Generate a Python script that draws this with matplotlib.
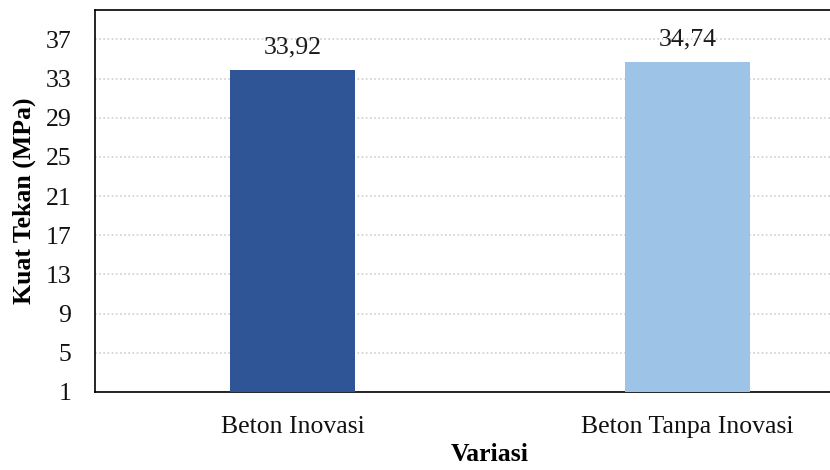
import matplotlib
matplotlib.use("Agg")
import matplotlib.pyplot as plt

categories = ["Beton Inovasi", "Beton Tanpa Inovasi"]
values = [33.92, 34.74]
labels = ["33,92", "34,74"]
colors = ["#2F5597", "#9DC3E6"]
yticks = [1, 5, 9, 13, 17, 21, 25, 29, 33, 37]

plt.rcParams['font.family'] = ['Liberation Serif', 'DejaVu Serif']

fig = plt.figure(figsize=(8.3, 4.7), dpi=100)
W, H = 830, 470
ax = fig.add_axes([95 / W, 1 - 392 / H, 790 / W, 382 / H])

x = list(range(len(categories)))
bars = ax.bar(x, [v - 1 for v in values], bottom=1, width=0.316, color=colors, zorder=3)
for b, lab in zip(bars, labels):
    ax.annotate(lab, (b.get_x() + b.get_width() / 2, b.get_y() + b.get_height()),
                xytext=(0, 8), textcoords="offset points", ha="center", va="bottom",
                fontsize=18.5, color="#1a1a1a")

ax.set_xlim(-0.5, 1.5)
ax.set_ylim(1, 40)
ax.set_yticks(yticks)
ax.set_xticks(x)
ax.set_xticklabels(categories)
ax.tick_params(axis='both', length=0, labelsize=18.5, colors="#111111")
ax.tick_params(axis='y', pad=17)
ax.tick_params(axis='x', pad=17)
ax.yaxis.grid(True, linestyle=(0, (1, 1.5)), color="#d0d0d0", linewidth=1.2, zorder=0)
ax.set_axisbelow(True)
for s in ax.spines.values():
    s.set_color("black")
    s.set_linewidth(1.2)

ax.set_ylabel("Kuat Tekan (MPa)", fontsize=18.5, fontweight="bold", labelpad=7)
ax.set_xlabel("Variasi", fontsize=18.5, fontweight="bold", labelpad=4)

fig.savefig("out.png", dpi=100)
